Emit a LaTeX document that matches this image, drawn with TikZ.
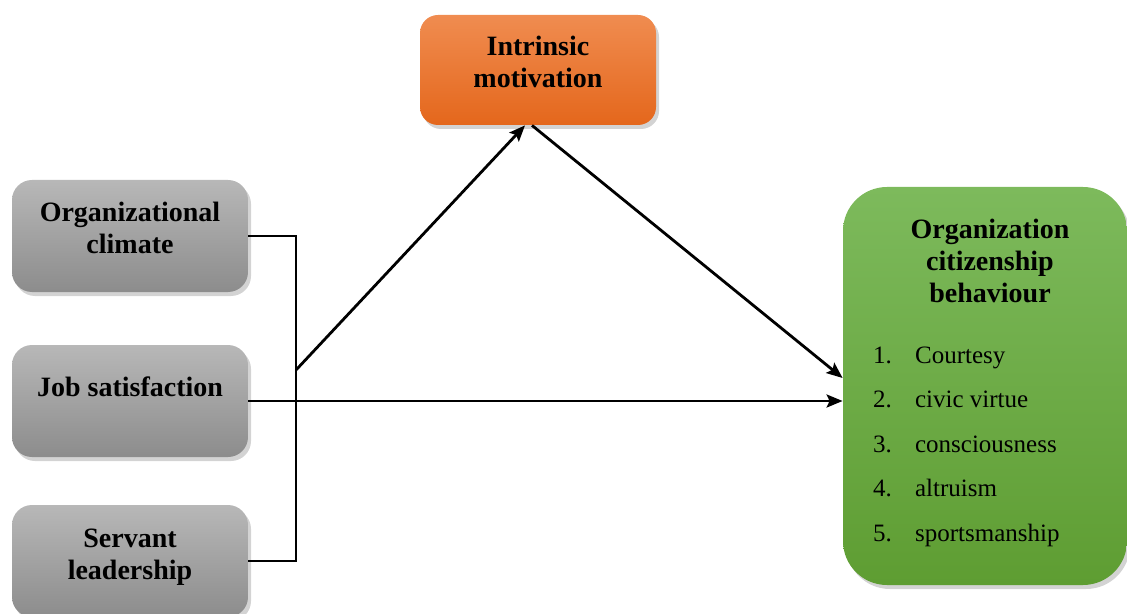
\documentclass[tikz,border=0pt]{standalone}
\usepackage{fontspec}
\setmainfont{Liberation Serif}
\usepackage{tikz}
\usetikzlibrary{arrows.meta,positioning,calc,shadows}

\begin{document}
\begin{tikzpicture}[
            x=0.5pt, y=-0.5pt,
            box/.style={
                rounded corners=10pt,
                minimum width=118pt,
                minimum height=56pt,
                drop shadow={opacity=0.35, shadow xshift=1.5pt, shadow yshift=-2pt}
            },
            graybox/.style={
                box,
                top color=black!28,
                bottom color=black!45
            },
            orangebox/.style={
                box,
                rounded corners=9pt,
                minimum height=55pt,
                top color=orange1,
                bottom color=orange2
            },
            greenbox/.style={
                box,
                rounded corners=22pt,
                minimum width=142pt,
                minimum height=199pt,
                top color=green1,
                bottom color=green2
            },
            title/.style={
                align=center,
                font=\fontsize{14pt}{16pt}\selectfont\bfseries
            },
            item/.style={
                anchor=base west,
                font=\fontsize{12.5pt}{14pt}\selectfont
            },
            link/.style={
                line width=1.4pt
            },
            arrow/.style={
                link,
                -{Stealth[length=8pt,width=6.5pt,inset=1.5pt]}
            }
        ]
            \definecolor{orange1}{HTML}{F08C50}
            \definecolor{orange2}{HTML}{E4671C}
            \definecolor{green1}{HTML}{7DBA5C}
            \definecolor{green2}{HTML}{5E9D32}

            \useasboundingbox (0,0) rectangle (1127,614);

            % --- Predictors ---
            \node[graybox] (oc) at (130,236) {};
            \node[title, yshift=4pt] (octext) at (oc.center) {Organizational\\climate};

            \node[graybox] (js) at (130,401) {};
            \node[title, yshift=7pt] (jstext) at (js.center) {Job satisfaction};

            \node[graybox] (sl) at (130,561) {};
            \node[title, yshift=2pt] (sltext) at (sl.center) {Servant\\leadership};

            % --- Mediator ---
            \node[orangebox] (im) at (538,70) {};
            \node[title, yshift=4pt] (imtext) at (im.center) {Intrinsic\\motivation};

            % --- Outcome ---
            \node[greenbox] (ocb) at (985,386) {};
            \node[title] (ocbtext) at (990,261) {Organization\\citizenship\\behaviour};

            \foreach \n/\t [count=\i] in {1/Courtesy,2/civic virtue,3/consciousness,4/altruism,5/sportsmanship} {
                \node[item] (num\i) at (866,{363+44.5*(\i-1)}) {\n.};
                \node[item] (itm\i) at (908,{363+44.5*(\i-1)}) {\t};
            }

            % --- Connectors ---
            \coordinate (bus) at (296,370);
            \draw[link] (oc.east) -| (bus) |- (sl.east);
            \draw[arrow] (js.east) -- (js.east -| ocb.west);
            \draw[arrow] (bus) -- ([xshift=-6.5pt]im.south);
            \draw[arrow] ([xshift=-3pt]im.south) -- ([yshift=4pt]ocb.west);
        \end{tikzpicture}
\end{document}
